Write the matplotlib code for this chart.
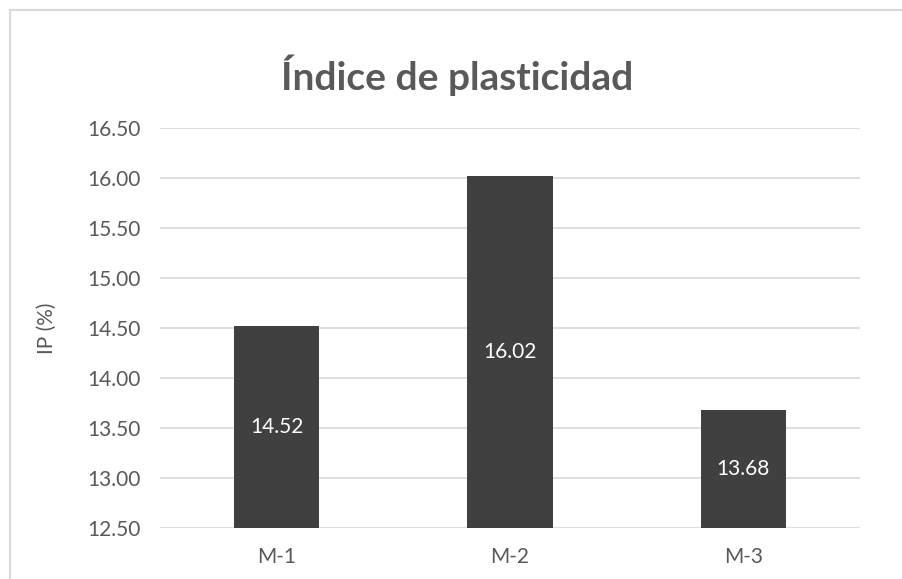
import matplotlib
matplotlib.use("Agg")
import matplotlib.pyplot as plt
from matplotlib.lines import Line2D

categories = ["M-1", "M-2", "M-3"]
values = [14.52, 16.02, 13.68]
yticks = [12.5, 13.0, 13.5, 14.0, 14.5, 15.0, 15.5, 16.0, 16.5]

plt.rcParams['font.family'] = ['Lato', 'DejaVu Sans']
txt = '#595959'

fig = plt.figure(figsize=(9.03, 5.79), dpi=100)
ax = fig.add_axes([160/903, 1-528/579, 700/903, 400/579])

x = range(len(categories))
bars = ax.bar(x, values, width=0.365, color='#404040', zorder=3)
for b, v in zip(bars, values):
    ax.text(b.get_x() + b.get_width()/2, (12.5 + v)/2, f"{v:.2f}",
            ha='center', va='center', color='white', fontsize=15, zorder=4)

ax.set_ylim(12.5, 16.5)
ax.set_xlim(-0.5, 2.5)
ax.set_yticks(yticks)
ax.set_yticklabels([f"{t:.2f}" for t in yticks])
ax.set_xticks(list(x))
ax.set_xticklabels(categories)
ax.tick_params(axis='both', length=0, labelsize=15, colors=txt)
ax.tick_params(axis='y', pad=14)
ax.tick_params(axis='x', pad=14)
ax.yaxis.grid(True, color='#d9d9d9', linewidth=1.2, zorder=0)
ax.set_axisbelow(True)
for s in ax.spines.values():
    s.set_visible(False)
ax.set_ylabel("IP (%)", fontsize=15, color=txt, labelpad=22)

fig.text(457/903, 1-75/579, "Índice de plasticidad", ha='center', va='center',
         fontsize=28, fontweight='bold', color=txt)

# chart area border (left and top)
fig.add_artist(Line2D([10/903, 10/903], [0, 1-10/579], transform=fig.transFigure,
                      color='#d9d9d9', linewidth=1.5))
fig.add_artist(Line2D([10/903, 1], [1-10/579, 1-10/579], transform=fig.transFigure,
                      color='#d9d9d9', linewidth=1.5))

fig.savefig("out.png", dpi=100)
